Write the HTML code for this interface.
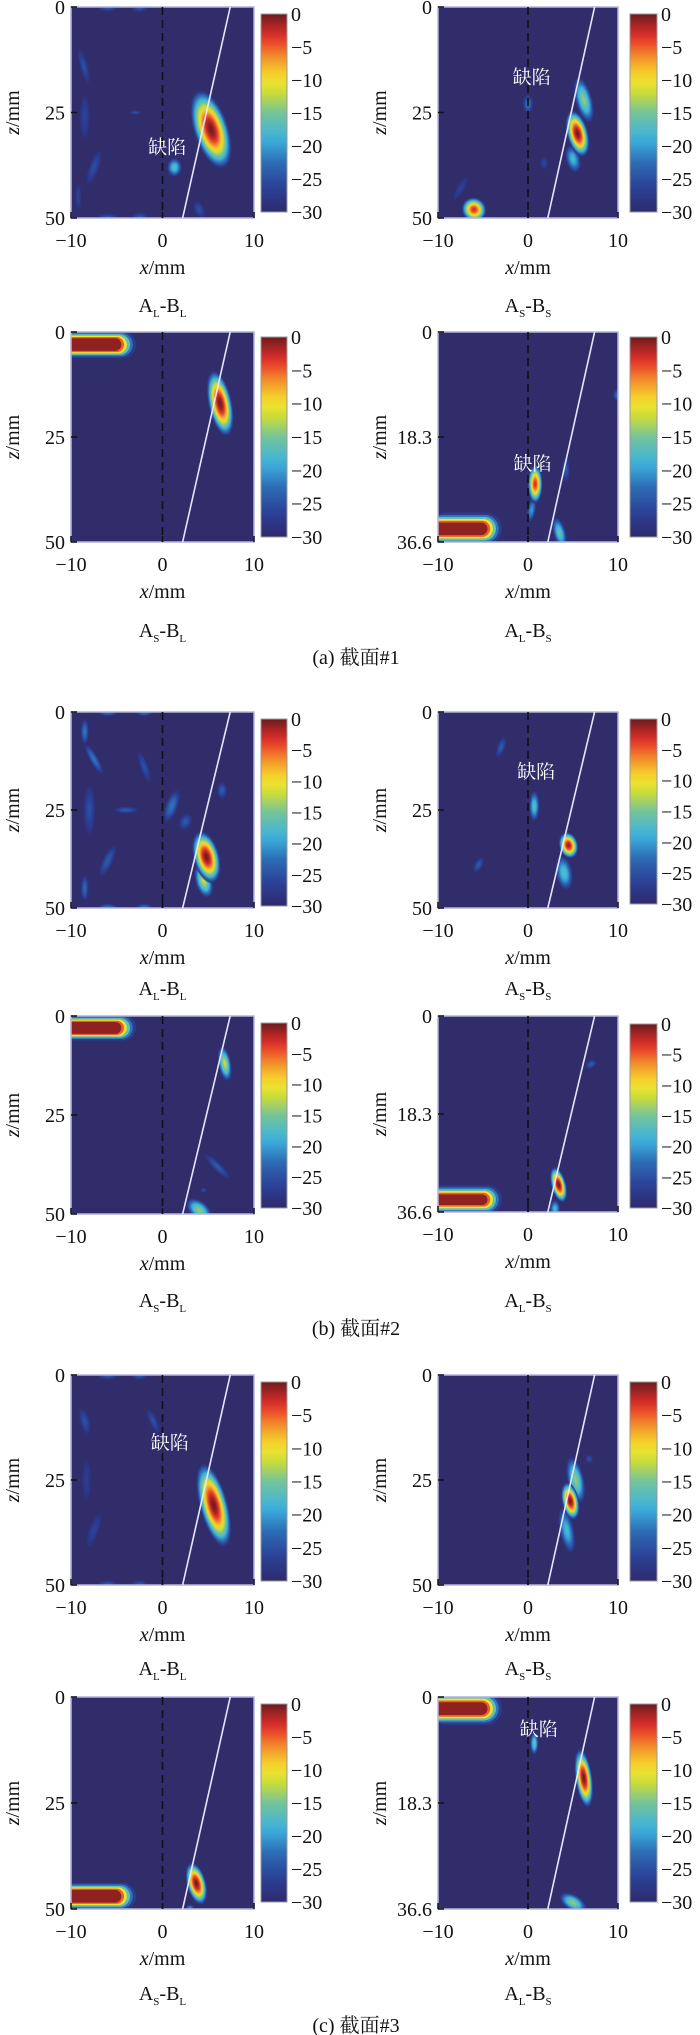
<!DOCTYPE html>
<html><head><meta charset="utf-8"><style>
html,body{margin:0;padding:0;background:#fff;}
svg{display:block;}
text{font-family:"Liberation Serif","Noto Serif CJK SC",serif;}
text.cjk{font-family:"Noto Serif CJK SC","Noto Sans CJK SC",serif;}
</style></head><body>
<svg id="fig" width="700" height="2035" viewBox="0 0 700 2035" xmlns="http://www.w3.org/2000/svg"><defs id="defs"></defs></svg>
<script>
// Blob data per panel: [x(mm), z(mm), rx(mm), rz(mm), peak dB, tilt deg]
const blobsA1=[[-6,0,1,1,-24,0],[-2.5,0,0.8,1.2,-24,0],[-6,50,1,1,-24,0],[-2.5,50,0.8,1.2,-24,0],[-8.6,14,0.4,4,-25,-15],[-8.5,26,0.5,5,-26,0],[-7.5,38,0.5,4,-25,20],[-9.2,45,0.3,3,-26,0],[-3,25,0.6,0.5,-25,0],[4,48,0.5,2,-25,-20],[1.3,38,0.7,2,-17,0],[5.3,29,1.6,8.5,0,-18]];
const blobsA2=[[1.8,37,0.4,1.5,-26,0],[-7.5,43,0.4,3,-26,30],[0,23,0.5,2,-22,0],[6.2,22,0.8,5,-14,-15],[5,36,0.7,3,-18,-15],[5.5,30,1.0,5,0,-15],[-6,48,1.2,2.5,-3,40]];
const blobsA3=[[6.3,17,1.1,7,0,-12]];
const blobsA4=[[10,11,0.5,1,-22,0],[4.2,24,0.4,2,-24,0],[0.4,31,0.4,2,-20,10],[3.5,35,0.6,2.5,-16,-15],[0.8,26.5,0.7,3,-3,0]];
const blobsB1=[[-6,0,1,1,-22,0],[-2,0,0.8,1,-22,0],[-6,50,1,1,-22,0],[-2,50,0.8,1,-22,0],[-8.5,5,0.4,3,-22,0],[-7.5,12,0.4,4,-22,-30],[-8,25,0.6,6,-25,0],[-4,25,1.2,0.8,-24,0],[-6,38,0.5,4,-24,25],[-8.5,45,0.4,3,-23,0],[-2,14,0.4,4,-25,-20],[2.5,28,0.6,2,-24,30],[1,24,0.6,4,-22,20],[6.5,20,0.5,2,-24,0],[4.5,43,0.8,4,-12,-15],[4.8,37,1.2,6,0,-15]];
const blobsB2=[[-5.5,39,0.4,2,-24,30],[-3,9,0.4,2.5,-24,20],[0.7,24,0.5,3.5,-17,0],[4,41,0.8,4,-17,-10],[4.5,34,0.9,3,-1,-15]];
const blobsB3=[[4.5,44,0.3,0.6,-25,0],[6,38,0.4,4,-24,-45],[4,49,1.4,2,-14,40],[6.8,12,0.6,4,-12,-10]];
const blobsB4=[[7,9,0.6,0.7,-24,-30],[3,36,0.5,1.5,-18,0],[3.4,31.5,0.7,3,0,-15]];
const blobsC1=[[-6,0,1,1,-24,0],[-2.5,0,0.8,1,-24,0],[-6,50,1,1,-24,0],[-2.5,50,0.8,1,-24,0],[-8.5,11,0.5,3,-25,-15],[-8.3,25,0.5,5,-27,0],[-7.5,37,0.5,4,-26,20],[-1,11,0.4,3,-25,-25],[5.6,31,1.3,9,0,-15]];
const blobsC2=[[6.8,20,0.4,1,-25,0],[4.3,37,0.7,5,-18,-12],[5.3,25,0.8,5,-14,-12],[4.7,30,0.8,4,0,-12]];
const blobsC3=[[3,50,0.4,1,-20,0],[3.7,44,0.9,4.5,0,-15]];
const blobsC4=[[5,35.5,1.4,1.2,-14,30],[0.7,8,0.4,1.8,-16,0],[6.2,14,0.8,4.5,0,-8]];
// Near-field bars: [x end of red core (mm), z centre (mm), half-height of core (mm)]
const barA3=[-4.5,3,1.5];
const barA4=[-4.5,34.3,1.1];
const barB3=[-4.5,3,1.5];
const barB4=[-4.5,34.3,1.0];
const barC3=[-4.5,47,1.5];
const barC4=[-4.5,2,1.1];
const xTicks=[-10,0,10];
const yTicksFull=[0,25,50];
const yTicksShort=[0,18.3,36.6];
const cbTicks=[0,-5,-10,-15,-20,-25,-30];

const cols=[{x0:71,x1:254,cb0:261,cb1:287},{x0:438,x1:618,cb0:630,cb1:657}];
const panels=[
 {c:0,t:7,b:218,cbt:14,cbb:212,cap:305,zmax:50,blobs:blobsA1,sub:['L','L'],lab:[0.5,33]},
 {c:1,t:7,b:218,cbt:14,cbb:212,cap:305,zmax:50,blobs:blobsA2,sub:['S','S'],lab:[0.4,16.5]},
 {c:0,t:332,b:542,cbt:337,cbb:537,cap:630,zmax:50,blobs:blobsA3,bar:barA3,sub:['S','L']},
 {c:1,t:332,b:542,cbt:337,cbb:537,cap:630,zmax:36.6,blobs:blobsA4,bar:barA4,sub:['L','S'],lab:[0.5,22.8]},
 {c:0,t:712,b:908,cbt:719,cbb:906,cap:988,zmax:50,blobs:blobsB1,sub:['L','L']},
 {c:1,t:712,b:908,cbt:719,cbb:904,cap:988,zmax:50,blobs:blobsB2,sub:['S','S'],lab:[0.9,15]},
 {c:0,t:1016,b:1214,cbt:1023,cbb:1208,cap:1300,zmax:50,blobs:blobsB3,bar:barB3,sub:['S','L']},
 {c:1,t:1016,b:1212,cbt:1024,cbb:1208,cap:1300,zmax:36.6,blobs:blobsB4,bar:barB4,sub:['L','S']},
 {c:0,t:1375,b:1585,cbt:1382,cbb:1581,cap:1668,zmax:50,blobs:blobsC1,sub:['L','L'],lab:[0.8,15.9]},
 {c:1,t:1375,b:1585,cbt:1382,cbb:1581,cap:1668,zmax:50,blobs:blobsC2,sub:['S','S']},
 {c:0,t:1697,b:1909,cbt:1704,cbb:1902,cap:1993,zmax:50,blobs:blobsC3,bar:barC3,sub:['S','L']},
 {c:1,t:1697,b:1909,cbt:1704,cbb:1902,cap:1993,zmax:36.6,blobs:blobsC4,bar:barC4,sub:['L','S'],lab:[1.2,5.4]}
];
const groupCaps=[{y:657,t:'(a) 截面#1'},{y:1328,t:'(b) 截面#2'},{y:2025,t:'(c) 截面#3'}];

const NS='http://www.w3.org/2000/svg';
const svg=document.getElementById('fig');
const defs=document.getElementById('defs');
function mk(tag,attrs,parent){const e=document.createElementNS(NS,tag);for(const k in attrs)e.setAttribute(k,attrs[k]);(parent||svg).appendChild(e);return e;}
const jetStops=[[0,[46,43,108]],[0.12,[43,63,150]],[0.25,[45,109,181]],[0.37,[60,179,223]],[0.5,[116,196,154]],[0.6,[201,220,59]],[0.67,[246,229,43]],[0.78,[243,147,43]],[0.88,[232,48,42]],[1,[110,27,30]]];
function jet(v){let t=Math.max(0,Math.min(1,(v+30)/30));for(let i=1;i<jetStops.length;i++){const[a,ca]=jetStops[i-1],[b,cb]=jetStops[i];if(t<=b){const f=(t-a)/(b-a);const c=ca.map((x,j)=>Math.round(x+(cb[j]-x)*f));return 'rgb('+c.join(',')+')';}}return 'rgb(110,27,30)';}
const cbg=mk('linearGradient',{id:'cbgrad',x1:0,y1:0,x2:0,y2:1},defs);
for(let i=0;i<=20;i++){mk('stop',{offset:i/20,'stop-color':jet(-30*i/20)},cbg);}
let gid=0;
function txt(x,y,s,attrs,parent){const e=mk('text',Object.assign({x:x,y:y,'font-size':20,fill:'#111'},attrs||{}),parent);e.textContent=s;return e;}

panels.forEach((p,pi)=>{
 const col=cols[p.c];
 const g=mk('g',{});
 
 
 const pw=col.x1-col.x0, ph=p.b-p.t;
 const xs=v=>col.x0+(v+10)/20*pw;
 const zs=v=>p.t+v/p.zmax*ph;
 const cp=mk('clipPath',{id:'clip'+pi},defs);
 mk('rect',{x:col.x0,y:p.t,width:pw,height:ph},cp);
 const bg=mk('rect',{x:col.x0,y:p.t,width:pw,height:ph,fill:'#312d6b'},g);
 
 
 const hg=mk('g',{'clip-path':'url(#clip'+pi+')'},g);
 if(p.bar){
  const [xe,zc,hh]=p.bar;
  const levels=[[-27,1.6,1.7],[-22,1.25,1.3],[-16,0.95,0.95],[-10,0.6,0.6],[-5,0.3,0.3],[-1,0,0]];
  levels.forEach(L=>{
   const mx=L[1],mz=L[2];
   const hz=(hh+mz)/p.zmax*ph;
   const x0=xs(-11), x1=xs(xe+mx);
   const r=mk('rect',{x:x0,y:zs(zc)-hz,width:x1-x0,height:2*hz,rx:hz,ry:hz,fill:jet(L[0])},hg);
   
   
  });
 }
 p.blobs.forEach(bl=>{
  const [x,z,rx,rz,pk,ang]=bl;
  const id='bg'+(gid++);
  const rg=mk('radialGradient',{id:id},defs);
  for(let i=0;i<=12;i++){const o=i/12;mk('stop',{offset:o,'stop-color':jet(pk+(-30-pk)*Math.pow(o,1.7)),'stop-opacity':o>0.92?0.5:1},rg);}
  const cx=xs(x),cy=zs(z);
  const e=mk('ellipse',{cx:cx,cy:cy,rx:1.2*rx/20*pw,ry:1.15*rz/p.zmax*ph,fill:'url(#'+id+')',transform:'rotate('+ang+' '+cx+' '+cy+')'},hg);
  
  
 });
 mk('rect',{x:col.x0,y:p.t,width:pw,height:ph,fill:'none',stroke:'#b4b4dc','stroke-width':1.5},g);
 const dl=mk('line',{x1:xs(0),y1:p.t,x2:xs(0),y2:p.b,stroke:'#111','stroke-width':1.6,'stroke-dasharray':'8,5'},g);
 
 
 const wl=mk('line',{x1:xs(2.2),y1:p.b,x2:xs(7.4),y2:p.t,stroke:'#e6e6ff','stroke-width':1.6},g);
 
 
 if(p.lab){const l=txt(xs(p.lab[0]),zs(p.lab[1])+7,'缺陷',{fill:'#fff','text-anchor':'middle','class':'cjk','font-size':19},g);
  
  }
 const yt=p.zmax===50?yTicksFull:yTicksShort;
 yt.forEach(v=>{mk('line',{x1:col.x0,y1:zs(v),x2:col.x0+6,y2:zs(v),stroke:'#111','stroke-width':1.5},g);
  const t=txt(col.x0-6,zs(v)+7,String(v),{'text-anchor':'end'},g);
  
  });
 xTicks.forEach(v=>{mk('line',{x1:xs(v),y1:p.b,x2:xs(v),y2:p.b-6,stroke:'#111','stroke-width':1.5},g);
  const t=txt(xs(v),p.b+29,(v<0?'\u2212':'')+Math.abs(v),{'text-anchor':'middle'},g);
  
  });
 const xl=txt((col.x0+col.x1)/2,p.b+56,'',{'text-anchor':'middle'},g);
 
 
 const i1=mk('tspan',{'font-style':'italic'},xl);i1.textContent='x';
 const i2=mk('tspan',{},xl);i2.textContent='/mm';
 const ycx=col.x0-59,ycy=(p.t+p.b)/2;
 const yl=txt(ycx,ycy+7,'',{'text-anchor':'middle',transform:'rotate(-90 '+ycx+' '+ycy+')'},g);
 
 
 const j1=mk('tspan',{'font-style':'italic'},yl);j1.textContent='z';
 const j2=mk('tspan',{},yl);j2.textContent='/mm';
 const cb=mk('rect',{x:col.cb0,y:p.cbt,width:col.cb1-col.cb0,height:p.cbb-p.cbt,fill:'url(#cbgrad)',stroke:'#999','stroke-width':1},g);
 
 
 cbTicks.forEach(v=>{const y=p.cbt+(-v)/30*(p.cbb-p.cbt);
  const t=txt(col.cb1+4,y+7,(v<0?'\u2212':'')+Math.abs(v),{},g);
  
  });
 const cx=(col.x0+col.x1)/2;
 const ct=txt(cx,p.cap+7,'',{'text-anchor':'middle'},g);
 
 
 const s1=mk('tspan',{},ct);s1.textContent='A';
 const s2=mk('tspan',{'font-size':11,dy:5},ct);s2.textContent=p.sub[0];
 const s3=mk('tspan',{dy:-5},ct);s3.textContent='-B';
 const s4=mk('tspan',{'font-size':11,dy:5},ct);s4.textContent=p.sub[1];
});
groupCaps.forEach(gc=>{const t=txt(356,gc.y+7,gc.t,{'text-anchor':'middle'});
 
 });
</script>
</body></html>
